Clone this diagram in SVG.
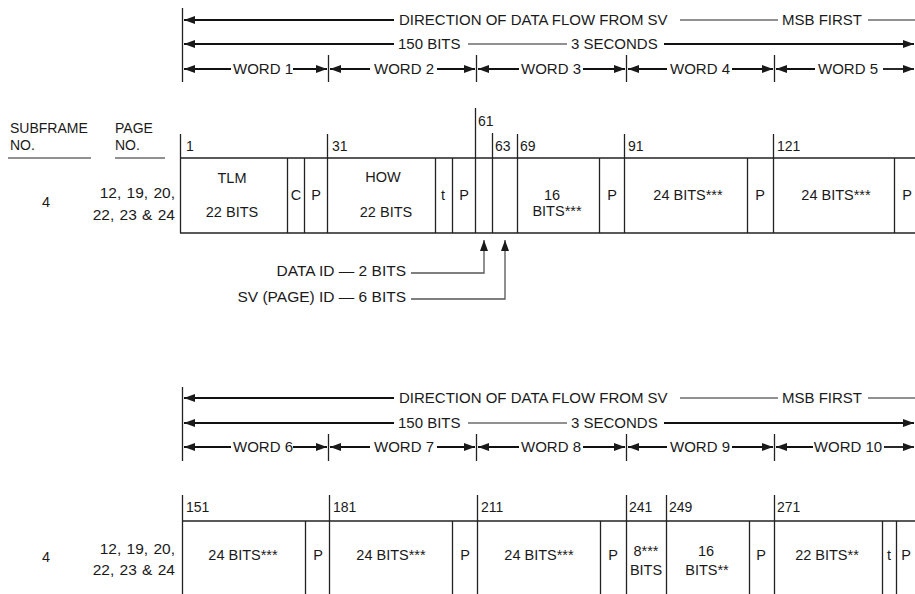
<svg xmlns="http://www.w3.org/2000/svg" width="915" height="594" viewBox="0 0 915 594">
<defs>
<marker id="ah" markerWidth="11" markerHeight="8" refX="11" refY="4" orient="auto" markerUnits="userSpaceOnUse"><path d="M0,0 L11,4 L0,8 z" fill="#1a1a1a"/></marker>
<style>
text{font-family:"Liberation Sans",Arial,sans-serif;fill:#1a1a1a;font-size:15px}
.n{font-size:14px}
.m{font-size:14.5px}
.pg{font-size:15.5px;word-spacing:1px}
.id{font-size:15.5px}
.c{text-anchor:middle}
.e{text-anchor:end}
.l{stroke:#222;stroke-width:1.3;fill:none}
.g{stroke:#555;stroke-width:1.3;fill:none}
.a{stroke:#111;stroke-width:1.8;fill:none;marker-end:url(#ah)}
.t{stroke:#222;stroke-width:1;fill:none}
</style>
</defs>
<rect width="915" height="594" fill="#fff"/>

<g id="header-top">
<line class="l" x1="182.5" y1="8" x2="182.5" y2="82"/>
<line class="a" x1="394" y1="20" x2="184" y2="20"/>
<text x="399" y="25">DIRECTION OF DATA FLOW FROM SV</text>
<line class="t" x1="680" y1="20" x2="778" y2="20"/>
<text x="782" y="25">MSB FIRST</text>
<line class="t" x1="868" y1="20" x2="915" y2="20"/>
<line class="a" x1="394" y1="44" x2="184" y2="44"/>
<text x="398" y="49">150 BITS</text>
<line class="t" x1="468" y1="44" x2="567" y2="44"/>
<text x="571" y="49">3 SECONDS</text>
<line class="a" x1="664" y1="44" x2="914" y2="44"/>
<g class="ticks">
<line class="l" x1="328.5" y1="55" x2="328.5" y2="82"/>
<line class="l" x1="476.5" y1="55" x2="476.5" y2="82"/>
<line class="l" x1="626.5" y1="55" x2="626.5" y2="82"/>
<line class="l" x1="774.5" y1="55" x2="774.5" y2="82"/>
</g>
<line class="a" x1="231" y1="69" x2="184" y2="69"/><text class="c" x="263" y="74">WORD 1</text><line class="a" x1="293" y1="69" x2="327" y2="69"/>
<line class="a" x1="370" y1="69" x2="330" y2="69"/><text class="c" x="404" y="74">WORD 2</text><line class="a" x1="437" y1="69" x2="475" y2="69"/>
<line class="a" x1="519" y1="69" x2="478" y2="69"/><text class="c" x="551" y="74">WORD 3</text><line class="a" x1="583" y1="69" x2="625" y2="69"/>
<line class="a" x1="667" y1="69" x2="628" y2="69"/><text class="c" x="700" y="74">WORD 4</text><line class="a" x1="732" y1="69" x2="773" y2="69"/>
<line class="a" x1="815" y1="69" x2="776" y2="69"/><text class="c" x="848" y="74">WORD 5</text><line class="a" x1="883" y1="69" x2="914" y2="69"/>
</g>

<g id="labels-left">
<text class="n" x="10" y="133">SUBFRAME</text>
<text class="n" x="10" y="150">NO.</text>
<line class="t" x1="8" y1="158" x2="91" y2="158"/>
<text class="n" x="115" y="133">PAGE</text>
<text class="n" x="115" y="150">NO.</text>
<line class="t" x1="115" y1="158" x2="165" y2="158"/>
<text class="m c" x="46" y="207">4</text>
<text class="pg e" x="175" y="198">12, 19, 20,</text>
<text class="pg e" x="175" y="220">22, 23 &amp; 24</text>
</g>

<g id="table-top">
<line class="l" x1="180" y1="158" x2="915" y2="158"/>
<line class="l" x1="180" y1="233" x2="915" y2="233"/>
<line class="l" x1="180.5" y1="134" x2="180.5" y2="233"/>
<line class="l" x1="287.5" y1="158" x2="287.5" y2="233"/>
<line class="l" x1="304.5" y1="158" x2="304.5" y2="233"/>
<line class="l" x1="327.5" y1="134" x2="327.5" y2="233"/>
<line class="l" x1="435.5" y1="158" x2="435.5" y2="233"/>
<line class="l" x1="452.5" y1="158" x2="452.5" y2="233"/>
<line class="l" x1="475.5" y1="108" x2="475.5" y2="233"/>
<line class="l" x1="492.5" y1="133" x2="492.5" y2="233"/>
<line class="l" x1="517.5" y1="134" x2="517.5" y2="233"/>
<line class="l" x1="599.5" y1="158" x2="599.5" y2="233"/>
<line class="l" x1="624.5" y1="134" x2="624.5" y2="233"/>
<line class="l" x1="747.5" y1="158" x2="747.5" y2="233"/>
<line class="l" x1="773.5" y1="134" x2="773.5" y2="233"/>
<line class="l" x1="894.5" y1="158" x2="894.5" y2="233"/>
<text class="n" x="186" y="151">1</text>
<text class="n" x="332" y="151">31</text>
<text class="n" x="478" y="126">61</text>
<text class="n" x="495" y="151">63</text>
<text class="n" x="520" y="151">69</text>
<text class="n" x="628" y="151">91</text>
<text class="n" x="777" y="151">121</text>
<text class="m c" x="232" y="183">TLM</text>
<text class="m c" x="232" y="217">22 BITS</text>
<text class="m c" x="296" y="200">C</text>
<text class="m c" x="316" y="200">P</text>
<text class="m c" x="383" y="182">HOW</text>
<text class="m c" x="386" y="217">22 BITS</text>
<text class="m c" x="443" y="200">t</text>
<text class="m c" x="464" y="200">P</text>
<text class="m c" x="552" y="200">16</text>
<text class="m c" x="557" y="216">BITS***</text>
<text class="m c" x="612" y="200">P</text>
<text class="m c" x="688" y="200">24 BITS***</text>
<text class="m c" x="760" y="200">P</text>
<text class="m c" x="836" y="200">24 BITS***</text>
<text class="m c" x="907" y="200">P</text>
</g>

<g id="connectors">
<path class="g" d="M411,273 H484 V240" style="marker-end:url(#ah)"/>
<path class="g" d="M411,299 H505 V240" style="marker-end:url(#ah)"/>
</g>
<g id="id-labels">
<text class="id e" x="406" y="276">DATA ID — 2 BITS</text>
<text class="id e" x="406" y="302">SV (PAGE) ID — 6 BITS</text>
</g>

<g id="header-bottom">
<line class="l" x1="182.5" y1="387" x2="182.5" y2="461"/>
<line class="a" x1="394" y1="398" x2="184" y2="398"/>
<text x="399" y="403">DIRECTION OF DATA FLOW FROM SV</text>
<line class="t" x1="680" y1="398" x2="778" y2="398"/>
<text x="782" y="403">MSB FIRST</text>
<line class="t" x1="868" y1="398" x2="915" y2="398"/>
<line class="a" x1="394" y1="423" x2="184" y2="423"/>
<text x="398" y="428">150 BITS</text>
<line class="t" x1="468" y1="423" x2="567" y2="423"/>
<text x="571" y="428">3 SECONDS</text>
<line class="a" x1="664" y1="423" x2="914" y2="423"/>
<line class="l" x1="328.5" y1="434" x2="328.5" y2="461"/>
<line class="l" x1="476.5" y1="434" x2="476.5" y2="461"/>
<line class="l" x1="626.5" y1="434" x2="626.5" y2="461"/>
<line class="l" x1="774.5" y1="434" x2="774.5" y2="461"/>
<line class="a" x1="231" y1="447" x2="184" y2="447"/><text class="c" x="263" y="452">WORD 6</text><line class="a" x1="293" y1="447" x2="327" y2="447"/>
<line class="a" x1="370" y1="447" x2="330" y2="447"/><text class="c" x="404" y="452">WORD 7</text><line class="a" x1="437" y1="447" x2="475" y2="447"/>
<line class="a" x1="519" y1="447" x2="478" y2="447"/><text class="c" x="551" y="452">WORD 8</text><line class="a" x1="583" y1="447" x2="625" y2="447"/>
<line class="a" x1="667" y1="447" x2="628" y2="447"/><text class="c" x="700" y="452">WORD 9</text><line class="a" x1="732" y1="447" x2="773" y2="447"/>
<line class="a" x1="813" y1="447" x2="776" y2="447"/><text class="c" x="848" y="452">WORD 10</text><line class="a" x1="884" y1="447" x2="914" y2="447"/>
</g>

<g id="labels-left-bottom">
<text class="m c" x="46" y="562">4</text>
<text class="pg e" x="175" y="554">12, 19, 20,</text>
<text class="pg e" x="175" y="575">22, 23 &amp; 24</text>
</g>

<g id="table-bottom">
<line class="l" x1="182" y1="521" x2="915" y2="521"/>
<line class="l" x1="182.5" y1="495" x2="182.5" y2="594"/>
<line class="l" x1="305.5" y1="521" x2="305.5" y2="594"/>
<line class="l" x1="329.5" y1="495" x2="329.5" y2="594"/>
<line class="l" x1="452.5" y1="521" x2="452.5" y2="594"/>
<line class="l" x1="477.5" y1="495" x2="477.5" y2="594"/>
<line class="l" x1="600.5" y1="521" x2="600.5" y2="594"/>
<line class="l" x1="626.5" y1="495" x2="626.5" y2="594"/>
<line class="l" x1="666.5" y1="495" x2="666.5" y2="594"/>
<line class="l" x1="749.5" y1="521" x2="749.5" y2="594"/>
<line class="l" x1="774.5" y1="495" x2="774.5" y2="594"/>
<line class="l" x1="882.5" y1="521" x2="882.5" y2="594"/>
<line class="l" x1="896.5" y1="521" x2="896.5" y2="594"/>
<text class="n" x="186" y="512">151</text>
<text class="n" x="333" y="512">181</text>
<text class="n" x="481" y="512">211</text>
<text class="n" x="629" y="512">241</text>
<text class="n" x="669" y="512">249</text>
<text class="n" x="777" y="512">271</text>
<text class="m c" x="243" y="560">24 BITS***</text>
<text class="m c" x="318" y="560">P</text>
<text class="m c" x="391" y="560">24 BITS***</text>
<text class="m c" x="465" y="560">P</text>
<text class="m c" x="539" y="560">24 BITS***</text>
<text class="m c" x="613" y="560">P</text>
<text class="m c" x="646" y="556">8***</text>
<text class="m c" x="646" y="575">BITS</text>
<text class="m c" x="706" y="556">16</text>
<text class="m c" x="707" y="575">BITS**</text>
<text class="m c" x="761" y="560">P</text>
<text class="m c" x="827" y="560">22 BITS**</text>
<text class="m c" x="889" y="560">t</text>
<text class="m c" x="906" y="560">P</text>
</g>
</svg>
